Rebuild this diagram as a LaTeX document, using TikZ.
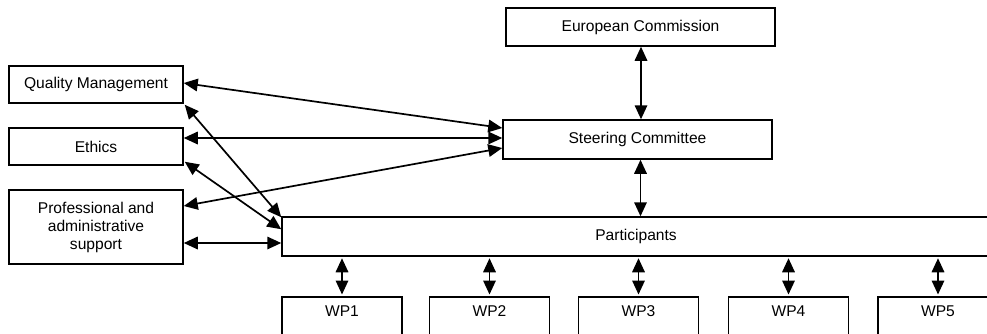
\documentclass[tikz,border=0pt]{standalone}
\usepackage{fontspec}
\setmainfont{Liberation Sans}
\usetikzlibrary{arrows.meta,calc}
\begin{document}
\begin{tikzpicture}[x=1pt,y=-1pt,
  box/.style={draw,line width=1.5pt,rectangle,inner sep=0pt,align=center,
    font=\fontsize{15.6}{18}\selectfont},
  wpbox/.style={box,minimum width=120pt,anchor=north,text height=20pt,text depth=40pt},
  link/.style={line width=1.7pt,{Triangle[length=14pt,width=12.5pt]}-{Triangle[length=14pt,width=12.5pt]}}]
\useasboundingbox (0,0) rectangle (987,333);
\clip (0,0) rectangle (987,333);
\fill[white] (0,0) rectangle (987,333);
% nodes
\node[box,minimum width=269pt,minimum height=38pt] (ec) at (640.5,27) {European Commission};
\node[box,minimum width=269pt,minimum height=39pt] (sc) at (637.5,139.5) {Steering Committee};
\node[box,minimum width=174pt,minimum height=37pt] (qm) at (96,84.5) {Quality Management};
\node[box,minimum width=174pt,minimum height=37pt] (eth) at (96,146.5) {Ethics};
\node[box,minimum width=174pt,minimum height=74pt] (prof) at (96,227) {Professional and\\administrative\\support};
\node[box,minimum width=708pt,minimum height=39pt] (part) at (636,236.5) {Participants};
\node[wpbox] (wp1) at (342,296) {WP1};
\node[wpbox] (wp2) at (489.5,296) {WP2};
\node[wpbox] (wp3) at (638.5,296) {WP3};
\node[wpbox] (wp4) at (788.5,296) {WP4};
\node[wpbox] (wp5) at (938,296) {WP5};
% connectors
\draw[link] ([xshift=0.5pt]ec.south) -- ([xshift=0.5pt]ec.south |- sc.north);
\draw[link] ([xshift=3pt]sc.south) -- ([xshift=3pt]sc.south |- part.north);
\draw[link] ([yshift=1.5pt]qm.east) -- ([yshift=11.5pt]sc.west);
\draw[link] ([yshift=8.5pt]eth.east) -- ([yshift=8.5pt]eth.east -| sc.west);
\draw[link] ([yshift=21pt]prof.east) -- ([yshift=-8.5pt]sc.west);
\draw[link] ([yshift=-16pt]prof.east) -- ([yshift=-16pt]prof.east -| part.west);
\draw[link] ([xshift=1pt,yshift=-1pt]qm.south east) -- ([yshift=-1pt]part.north west);
\draw[link] ([xshift=1pt,yshift=4pt]eth.south east) -- ([yshift=-13pt]part.north west);
\foreach \w in {wp1,wp2,wp3,wp4,wp5}{
  \draw[link,shorten <=1.5pt,shorten >=1.5pt] (part.south -| \w.north) -- (\w.north);
}
\end{tikzpicture}
\end{document}
